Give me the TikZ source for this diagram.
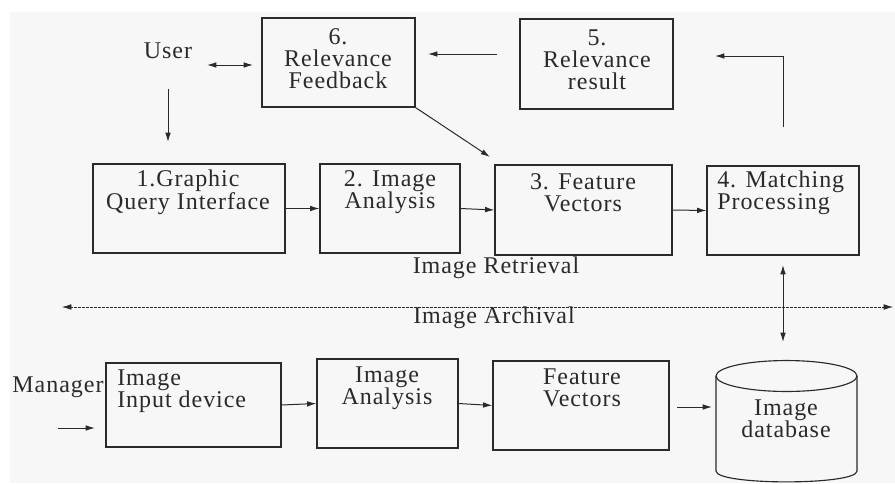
\documentclass[tikz,border=0pt]{standalone}
\usepackage{fontspec}
\setmainfont{Liberation Serif}[LetterSpace=4]
\usetikzlibrary{arrows.meta,fit}
\definecolor{bg}{HTML}{F7F7F7}
\definecolor{ink}{HTML}{2A2A2A}
\tikzset{
  box/.style={draw=ink, line width=0.85pt, inner sep=0pt},
  txt/.style={text=ink, font=\fontsize{18pt}{16.5pt}\selectfont, inner sep=0pt, align=center},
  txtl/.style={txt, align=left, anchor=west},
  arr/.style={draw=ink, line width=0.75pt, -{Latex[length=7pt,width=4.2pt]}},
  arrb/.style={draw=ink, line width=0.75pt, {Latex[length=7pt,width=4.2pt]}-{Latex[length=7pt,width=4.2pt]}},
  dotln/.style={draw=ink, line width=0.45pt, dash pattern=on 0.5pt off 0.5pt,
     {Latex[length=7pt,width=4.2pt]}-{Latex[length=7pt,width=4.2pt]}}
}
\begin{document}
\begin{tikzpicture}[x=0.75pt, y=-0.75pt]
\useasboundingbox (0,0) rectangle (895,483);
\fill[bg] (10,12) rectangle (895,483);

% top row
\node[box, fit={(262,18) (415,107)}] (b6) {};
\node[txt] (t6) at (338,59) {6.\\Relevance\\Feedback};
\node[box, fit={(520,19) (673,109)}] (b5) {};
\node[txt] (t5) at (597,60) {5.\\Relevance\\result};
\node[txt] (user) at (168,51) {User};

% retrieval row
\node[box, fit={(93,164) (285,253)}] (b1) {};
\node[txt] (t1) at (188,192) {1.Graphic\\Query Interface};
\node[box, fit={(320,164) (460,253)}] (b2) {};
\node[txt] (t2) at (390,192) {2. Image\\Analysis};
\node[box, fit={(495,165) (672,255)}] (b3) {};
\node[txt] (t3) at (583,193) {3. Feature\\Vectors};
\node[box, fit={(707,166) (859,255)}] (b4) {};
\node[txtl] (t4) at (717,193) {4. Matching\\Processing};

\node[txt] (ret) at (496,268) {Image Retrieval};
\node[txt] (arc) at (494,318) {Image Archival};

% archival row
\node[txt] (mgr) at (58,387) {Manager};
\node[box, fit={(106,363) (281,447)}] (i1) {};
\node[txtl] (ti1) at (117,391) {Image\\Input device};
\node[box, fit={(317,359) (458,448)}] (i2) {};
\node[txt] (ti2) at (387,388) {Image\\Analysis};
\node[box, fit={(493,361) (669,450)}] (i3) {};
\node[txt] (ti3) at (582,388) {Feature\\Vectors};

% database cylinder
\node[inner sep=0pt, fit={(716,361) (857,482)}] (db) {};
\draw[draw=ink, line width=0.85pt] (786.5,376) ellipse [x radius=52.875pt, y radius=11.6pt];
\draw[draw=ink, line width=0.85pt] (716,376) -- (716,471)
   .. controls (716,485.5) and (857,485.5) .. (857,471) -- (857,376);
\node[txt] (tdb) at (786,419) {Image\\database};

% coordinates for free ends
\coordinate (ua) at (207,65);
\coordinate (ub) at (253,65);
\coordinate (ud1) at (168,89);
\coordinate (ud2) at (168,142);
\coordinate (r5a) at (497,54);
\coordinate (r5b) at (428,54);
\coordinate (m1) at (783,127);
\coordinate (m2) at (783,56);
\coordinate (m3) at (715,56);
\coordinate (d3) at (490,157);
\coordinate (dl) at (62,307);
\coordinate (dr) at (893,307);
\coordinate (va) at (783,265);
\coordinate (vb) at (783,342);
\coordinate (ma) at (58,428);
\coordinate (mb) at (95,428);
\coordinate (c1) at (677,407);
\coordinate (c2) at (712,407);

% connectors
\draw[arrb] (ua) -- (ub);
\draw[arr] (ud1) -- (ud2);
\draw[arr] (r5a) -- (r5b);
\draw[arr] (m1) -- (m2) -- (m3);
\draw[arr] (b6.south east) -- (d3);
\draw[arr] (b1.east) -- (b2.west);
\draw[arr] (b2.east) -- (b3.west);
\draw[arr] (b3.east) -- (b4.west);
\draw[dotln] (dl) -- (dr);
\draw[arrb] (va) -- (vb);
\draw[arr] (ma) -- (mb);
\draw[arr] (i1.east) -- (i2.west);
\draw[arr] (i2.east) -- (i3.west);
\draw[arr] (c1) -- (c2);
\end{tikzpicture}
\end{document}
